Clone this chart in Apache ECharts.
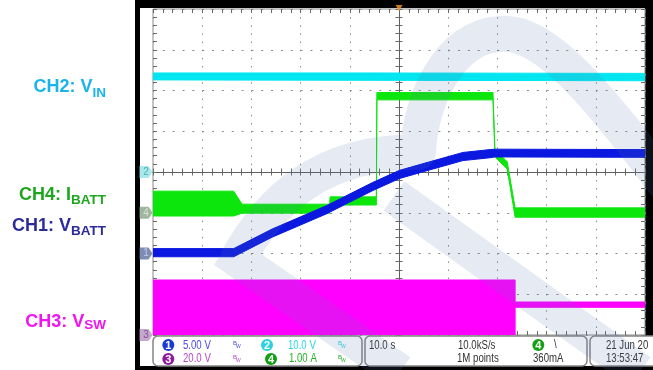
<!DOCTYPE html>
<html>
<head>
<meta charset="utf-8">
<script src="https://cdn.jsdelivr.net/npm/echarts@6/dist/echarts.min.js"></script>
<style>
html,body{margin:0;padding:0;background:#fff;}
#main{width:653px;height:370px;}
</style>
</head>
<body>
<div id="main"></div>
<script>
// horizontal: seconds (10 s/div), vertical: screen divisions
var timeRange = [-50, 50];
var divRange = [-4, 4];

// CH2 VIN (cyan)
var ch2Time = [-50, -5, 50];
var ch2Hi = [2.43, 2.43, 2.42];
var ch2Lo = [2.26, 2.25, 2.24];

// CH4 IBATT (green)
var ch4Time = [-50, -33.6, -31.9, -14.1, -14.0, -4.6, -4.5, 19.1, 19.5, 21.6, 22.0, 23.6, 50];
var ch4Hi = [-0.47, -0.47, -0.79, -0.79, -0.61, -0.61, 1.95, 1.95, 0.54, 0.30, 0.25, -0.88, -0.88];
var ch4Lo = [-1.08, -1.08, -1.01, -1.01, -0.81, -0.81, 1.77, 1.77, 0.37, 0.12, 0.07, -1.11, -1.11];

// CH1 VBATT (blue)
var ch1Time = [-50, -33.6, -25.8, -14.8, -5.4, 0.1, 6.2, 13, 18.5, 19.5, 50];
var ch1Hi = [-1.88, -1.88, -1.40, -0.83, -0.26, 0.04, 0.25, 0.48, 0.55, 0.56, 0.55];
var ch1Lo = [-2.08, -2.08, -1.60, -1.03, -0.46, -0.16, 0.05, 0.28, 0.35, 0.37, 0.36];

// CH3 VSW (magenta)
var ch3Time = [-50, 23.6, 23.6, 50];
var ch3Hi = [-2.65, -2.65, -3.19, -3.19];
var ch3Lo = [-4, -4, -3.32, -3.32];

// channel ground markers on the left edge
var markerNames = ['2', '4', '1', '3'];
var markerLevels = [0, -1, -2, -4];
var markerFill = ['#93e2e8', '#86a486', '#5d6f9e', '#b592c0'];
var markerText = ['#3c9ca8', '#e0eee0', '#d4dcff', '#7a3a8a'];
var triggerTime = 0;

var chart = echarts.init(document.getElementById('main'));

function bandSeries(t, hi, lo, color, z) {
  return {
    type: 'custom',
    xAxisIndex: 0,
    yAxisIndex: 0,
    silent: true,
    clip: true,
    z: z,
    data: [[t[0], hi[0]]],
    renderItem: function (params, api) {
      var pts = [];
      for (var i = 0; i < t.length; i++) pts.push(api.coord([t[i], hi[i]]));
      for (var j = t.length - 1; j >= 0; j--) pts.push(api.coord([t[j], lo[j]]));
      return {
        type: 'polygon',
        shape: { points: pts },
        style: { fill: color, stroke: color, lineWidth: 1, lineJoin: 'round' }
      };
    }
  };
}

var tickStyle = { color: '#6a6a6a', width: 1 };

function xAxisCfg(pos, center) {
  return {
    type: 'value', position: pos, min: timeRange[0], max: timeRange[1], interval: 10,
    axisLine: center
      ? { show: true, onZero: true, onZeroAxisIndex: 0, lineStyle: { color: '#5e5e5e', width: 1 } }
      : { show: false, onZero: false },
    axisTick: { show: true, inside: true, length: center ? 3.5 : 4, lineStyle: tickStyle },
    minorTick: { show: true, splitNumber: 5, length: center ? 3.5 : 4, lineStyle: tickStyle },
    axisLabel: { show: false },
    splitLine: { show: !center && pos === 'bottom', lineStyle: { color: '#8a8a8a', width: 1, type: [1.5, 6.64] } },
    minorSplitLine: { show: false }
  };
}

function yAxisCfg(pos, center) {
  return {
    type: 'value', position: pos, min: divRange[0], max: divRange[1], interval: 1,
    axisLine: center
      ? { show: true, onZero: true, onZeroAxisIndex: 0, lineStyle: { color: '#5e5e5e', width: 1 } }
      : { show: false, onZero: false },
    axisTick: { show: true, inside: true, length: center ? 3.5 : 4, lineStyle: tickStyle },
    minorTick: { show: true, splitNumber: 5, length: center ? 3.5 : 4, lineStyle: tickStyle },
    axisLabel: { show: false },
    splitLine: { show: !center && pos === 'left', lineStyle: { color: '#8a8a8a', width: 1, type: [2, 7.84] } },
    minorSplitLine: { show: false }
  };
}

// faint logo watermark over the whole screenshot
var wmSvg = '<svg xmlns="http://www.w3.org/2000/svg" width="653" height="370">' +
  '<path d="M236 262 C270 200 320 152 418 152 C420 100 450 36 500 34 C545 30 595 92 670 190 ' +
  'M224 250 L400 372 M394 196 L640 372" fill="none" stroke="#587aaf" stroke-width="36" ' +
  'stroke-linejoin="round" opacity="0.15"/></svg>';
var wmUri = 'data:image/svg+xml;charset=utf-8,' + encodeURIComponent(wmSvg);

var labelFont = "'Liberation Sans', Arial, sans-serif";
var measureCtx = document.createElement('canvas').getContext('2d');
function textW(str, font) { measureCtx.font = font; return measureCtx.measureText(str).width; }

function chanLabel(main, sub, color, y, subY) {
  var subW = textW(sub, 'bold 13.5px ' + labelFont);
  return [
    { type: 'text', x: 106 - subW, y: y, z: 20, silent: true,
      style: { text: main, fill: color, fontSize: 18, fontWeight: 'bold', fontFamily: labelFont,
        align: 'right', verticalAlign: 'middle', textAlign: 'right', textVerticalAlign: 'middle' } },
    { type: 'text', x: 106, y: subY, z: 20, silent: true,
      style: { text: sub, fill: color, fontSize: 13.5, fontWeight: 'bold', fontFamily: labelFont,
        align: 'right', verticalAlign: 'middle', textAlign: 'right', textVerticalAlign: 'middle' } }
  ];
}

function infoText(x, y, str, color) {
  return { type: 'text', x: x, y: y, scaleX: 0.74, z: 20, silent: true,
    style: { text: str, fill: color, fontSize: 13, fontFamily: labelFont,
      align: 'left', verticalAlign: 'middle', textAlign: 'left', textVerticalAlign: 'middle' } };
}
function infoBadge(x, y, num, color) {
  return [
    { type: 'circle', z: 20, silent: true, shape: { cx: x, cy: y, r: 6 }, style: { fill: color } },
    { type: 'text', x: x, y: y + 0.5, z: 21, silent: true,
      style: { text: num, fill: '#fff', fontSize: 11, fontWeight: 'bold', fontFamily: labelFont,
        align: 'center', verticalAlign: 'middle', textAlign: 'center', textVerticalAlign: 'middle' } }
  ];
}
function bwIcon(x, y, color) {
  return [
    { type: 'text', x: x, y: y - 2, z: 20, silent: true,
      style: { text: 'B', fill: color, fontSize: 6, fontFamily: labelFont, align: 'left', verticalAlign: 'middle' } },
    { type: 'text', x: x + 3, y: y + 2, z: 20, silent: true,
      style: { text: 'W', fill: color, fontSize: 5, fontFamily: labelFont, align: 'left', verticalAlign: 'middle' } }
  ];
}
function box(x, w) {
  return { type: 'rect', z: 15, silent: true,
    shape: { x: x, y: 336, width: w, height: 30, r: 5 },
    style: { fill: '#fff', stroke: '#858585', lineWidth: 1.5 } };
}

var graphics = [
  { type: 'rect', z: -100, silent: true, shape: { x: 135, y: 0, width: 518, height: 370 }, style: { fill: '#000' } },
  { type: 'rect', z: -99, silent: true, shape: { x: 140, y: 8, width: 505, height: 358 }, style: { fill: '#fff' } },
  { type: 'rect', z: -99, silent: true, shape: { x: 140, y: 336, width: 513, height: 30 }, style: { fill: '#fff' } },
  box(153, 209), box(365, 222), box(590, 80),
  infoText(183, 345.3, '5.00 V', '#4a4ae6'),
  infoText(183, 358.8, '20.0 V', '#b448c4'),
  infoText(288, 345.3, '10.0 V', '#2ad6e6'),
  infoText(289, 358.8, '1.00 A', '#20b420'),
  infoText(369, 345.3, '10.0 s', '#333'),
  infoText(458, 345.3, '10.0kS/s', '#333'),
  infoText(457, 358.8, '1M points', '#333'),
  infoText(554, 344.5, '\\', '#333'),
  infoText(533, 358.8, '360mA', '#333'),
  infoText(606, 345.3, '21 Jun 20', '#333'),
  infoText(606, 358.8, '13:53:47', '#333'),
  { type: 'image', x: 0, y: 0, z: 100, silent: true, style: { image: wmUri, width: 653, height: 370 } }
];
graphics = graphics
  .concat(infoBadge(168.3, 345, '1', '#1a3ad6'))
  .concat(infoBadge(168.3, 359, '3', '#8c1c9c'))
  .concat(infoBadge(267, 345, '2', '#2ed0e0'))
  .concat(infoBadge(271, 359, '4', '#10a010'))
  .concat(infoBadge(538.3, 345, '4', '#10a010'))
  .concat(bwIcon(233, 345, '#4a4ae6'))
  .concat(bwIcon(233, 359, '#b448c4'))
  .concat(bwIcon(338, 345, '#2ad6e6'))
  .concat(bwIcon(338, 359, '#20b420'))
  .concat(chanLabel('CH2: V', 'IN', '#1ab4ec', 86.6, 92.8))
  .concat(chanLabel('CH4: I', 'BATT', '#1fa61f', 194.7, 200.3))
  .concat(chanLabel('CH1: V', 'BATT', '#2b2b9b', 226.3, 231.7))
  .concat(chanLabel('CH3: V', 'SW', '#f014f0', 321.7, 325.7));

var markerData = markerNames.map(function (n, i) {
  return {
    value: [timeRange[0], markerLevels[i], n],
    itemStyle: { color: markerFill[i] },
    label: { color: markerText[i] }
  };
});

chart.setOption({
  animation: false,
  backgroundColor: 'transparent',
  grid: { left: 153, top: 9, width: 492, height: 326, show: true, borderColor: '#8a8a8a', borderWidth: 1, backgroundColor: 'transparent' },
  xAxis: [xAxisCfg('bottom', false), xAxisCfg('top', false), xAxisCfg('bottom', true), xAxisCfg('top', true)],
  yAxis: [yAxisCfg('left', false), yAxisCfg('right', false), yAxisCfg('left', true), yAxisCfg('right', true)],
  graphic: { elements: graphics },
  series: [
    bandSeries(ch3Time, ch3Hi, ch3Lo, '#ff00ff', 3),
    bandSeries(ch4Time, ch4Hi, ch4Lo, '#0de60d', 4),
    bandSeries(ch1Time, ch1Hi, ch1Lo, '#0a18e0', 5),
    bandSeries(ch2Time, ch2Hi, ch2Lo, '#00e6f0', 6),
    {
      type: 'scatter', xAxisIndex: 0, yAxisIndex: 0, clip: false, silent: true, z: 8,
      symbol: 'path://M0,0 L9,0 L13,6 L9,12 L0,12 Z',
      symbolSize: [13, 12], symbolOffset: [-7, 0],
      data: markerData,
      label: { show: true, position: 'inside', fontSize: 10, fontFamily: labelFont,
        formatter: function (p) { return p.value[2]; } }
    },
    {
      type: 'scatter', xAxisIndex: 0, yAxisIndex: 0, clip: false, silent: true, z: 8,
      symbol: 'path://M0,0 L10,0 L5,9 Z', symbolSize: [7, 6], symbolOffset: [0, -1],
      itemStyle: { color: '#ff9a1a' },
      data: [[triggerTime, divRange[1]]]
    }
  ]
});
</script>
</body>
</html>
